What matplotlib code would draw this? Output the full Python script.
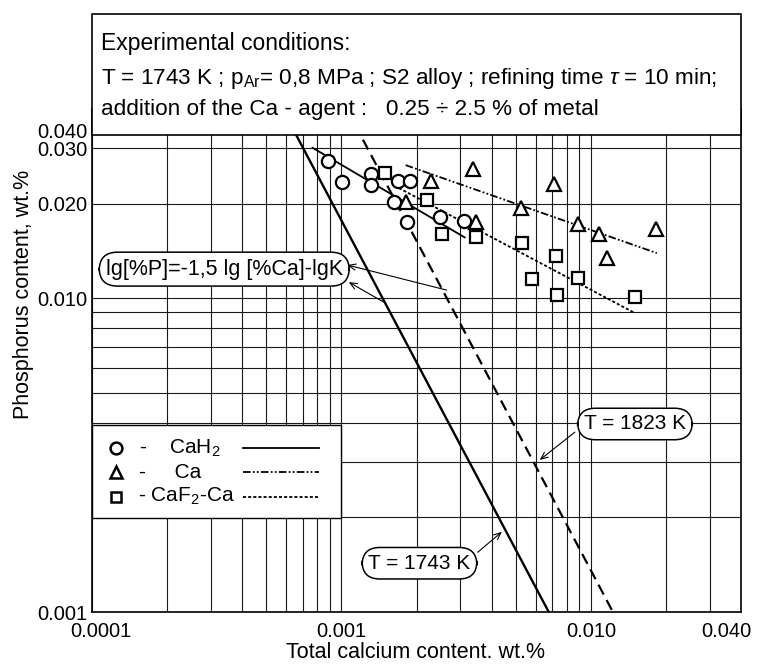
import matplotlib
matplotlib.use("Agg")
import matplotlib.pyplot as plt
import matplotlib.transforms as mtransforms
from matplotlib.patches import Rectangle

plt.rcParams['font.family'] = ['Liberation Sans', 'DejaVu Sans']
plt.rcParams['mathtext.fontset'] = 'custom'
plt.rcParams['mathtext.rm'] = 'Liberation Sans'
plt.rcParams['mathtext.it'] = 'Liberation Sans:italic'
plt.rcParams['lines.scale_dashes'] = False

# measured points, wt.%
cah2_ca = [0.00088, 0.00101, 0.00132, 0.00132, 0.00169, 0.00188, 0.00163, 0.00184, 0.00248, 0.00309]
cah2_p = [0.0273, 0.0234, 0.0248, 0.0229, 0.0236, 0.0236, 0.0202, 0.0175, 0.0181, 0.0176]
ca_ca = [0.00181, 0.00228, 0.00336, 0.00345, 0.00524, 0.0071, 0.00887, 0.01077, 0.0116, 0.0182]
ca_p = [0.0202, 0.0236, 0.0258, 0.0175, 0.0194, 0.0231, 0.0172, 0.0160, 0.0134, 0.0166]
caf2_ca = [0.00149, 0.00221, 0.00252, 0.00348, 0.00528, 0.00723, 0.0058, 0.00887, 0.0073, 0.0150]
caf2_p = [0.0250, 0.0205, 0.0160, 0.0157, 0.0150, 0.0136, 0.0115, 0.0116, 0.0102, 0.0101]

# regression lines (end points)
fit_cah2_ca = [0.000766, 0.00312]
fit_cah2_p = [0.0301, 0.0156]
fit_ca_ca = [0.00181, 0.0184]
fit_ca_p = [0.0265, 0.0139]
fit_caf2_ca = [0.00163, 0.0150]
fit_caf2_p = [0.0228, 0.00896]

# equilibrium lines lg[%P] = -1.5 lg[%Ca] - lgK
t1743_ca = [0.00058, 0.00678]
t1743_p = [0.040, 0.001]
t1823_ca = [0.00105, 0.01226]
t1823_p = [0.040, 0.001]

xticks = [0.0001, 0.001, 0.01, 0.04]
xticklabels = ["0.0001", "0.001", "0.010", "0.040"]
yticks = [0.001, 0.01, 0.02, 0.03, 0.04]
yticklabels = ["0.001", "0.010", "0.020", "0.030", "0.040"]

W, H = 758, 665
fig = plt.figure(figsize=(W / 100, H / 100), dpi=100)
ax = fig.add_axes([92 / W, 1 - 612 / H, 649 / W, 503 / H])
ax.set_xscale('log')
ax.set_yscale('log')
ax.set_xlim(0.0001, 0.04)
ax.set_ylim(0.001, 0.04)
ax.set_xticks(xticks)
ax.set_xticklabels(xticklabels)
ax.set_yticks(yticks)
ax.set_yticklabels(yticklabels)
ax.grid(True, which='both', color='#1a1a1a', lw=0.8)
ax.set_axisbelow(True)
ax.tick_params(which='both', length=0, labelsize=14.5)
ax.tick_params(axis='x', pad=7)
ax.tick_params(axis='y', pad=3)
for s in ax.spines.values():
    s.set_linewidth(1.2)

# tick labels shifted like in the original drawing
xl = ax.get_xticklabels()
xl[0].set_transform(xl[0].get_transform() + mtransforms.ScaledTranslation(9 / 100, 0, fig.dpi_scale_trans))
xl[-1].set_transform(xl[-1].get_transform() + mtransforms.ScaledTranslation(-15 / 100, 0, fig.dpi_scale_trans))
yl = ax.get_yticklabels()
yl[-1].set_transform(yl[-1].get_transform() + mtransforms.ScaledTranslation(0, -21 / 100, fig.dpi_scale_trans))

mk = dict(ls='none', mfc='white', mec='black', mew=1.6, zorder=6)
ax.plot(cah2_ca, cah2_p, marker='o', ms=9.5, **mk)
ax.plot(ca_ca, ca_p, marker='^', ms=10, **mk)
ax.plot(caf2_ca, caf2_p, marker='s', ms=8.5, **mk)

ax.plot(fit_cah2_ca, fit_cah2_p, color='black', lw=1.3, zorder=5)
ax.plot(fit_ca_ca, fit_ca_p, color='black', lw=1.3, ls=(0, (5.5, 1.6, 1.3, 1.6, 1.3, 1.6)), zorder=5)
ax.plot(fit_caf2_ca, fit_caf2_p, color='black', lw=1.3, ls=(0, (2.2, 1.5)), zorder=5)
ax.plot(t1743_ca, t1743_p, color='black', lw=1.7, zorder=5)
ax.plot(t1823_ca, t1823_p, color='black', lw=1.6, ls=(0, (8, 4.5)), zorder=5)

# annotations
pill = dict(boxstyle='round,pad=0.3,rounding_size=0.85', fc='white', ec='black', lw=1.1)
arr = dict(arrowstyle='->,head_length=0.5,head_width=0.22', color='black', lw=0.8, shrinkA=0, shrinkB=0)
ax.text(0.000339, 0.01236, "lg[%P]=-1,5 lg [%Ca]-lgK", ha='center', va='center', fontsize=15.5, bbox=pill, zorder=7)
ax.annotate('', xy=(0.001057, 0.01274), xytext=(0.00264, 0.0106), arrowprops=arr, zorder=7)
ax.annotate('', xy=(0.00107, 0.01124), xytext=(0.001476, 0.00971), arrowprops=arr, zorder=7)
ax.text(0.01503, 0.00397, "T = 1823 K", ha='center', va='center', fontsize=15, bbox=pill, zorder=7)
ax.annotate('', xy=(0.00624, 0.00305), xytext=(0.00863, 0.00374), arrowprops=arr, zorder=7)
ax.text(0.002056, 0.00143, "T = 1743 K", ha='center', va='center', fontsize=15, bbox=pill, zorder=7)
ax.annotate('', xy=(0.00440, 0.0018), xytext=(0.00352, 0.00155), arrowprops=arr, zorder=7)

# legend drawn by hand
ax.add_patch(Rectangle((0, 0.1869), 0.3837, 0.1849, transform=ax.transAxes, fc='white', ec='black', lw=1.0, zorder=8))
rows = [0.326, 0.278, 0.229]
lmk = dict(transform=ax.transAxes, ls='none', mfc='white', mec='black', mew=1.8, zorder=9, clip_on=False)
ax.plot([0.037], [rows[0]], marker='o', ms=8.5, **lmk)
ax.plot([0.037], [rows[1]], marker='^', ms=9, **lmk)
ax.plot([0.037], [rows[2]], marker='s', ms=7.5, **lmk)
ax.text(0.072, rows[0], "-    CaH$_2$", transform=ax.transAxes, va='center', fontsize=15, zorder=9)
ax.text(0.072, rows[1], "-     Ca", transform=ax.transAxes, va='center', fontsize=15, zorder=9)
ax.text(0.071, rows[2], "- CaF$_2$-Ca", transform=ax.transAxes, va='center', fontsize=15, zorder=9)
lx = [0.2327, 0.3498]
ax.plot(lx, [rows[0]] * 2, transform=ax.transAxes, color='black', lw=1.3, zorder=9)
ax.plot(lx, [rows[1]] * 2, transform=ax.transAxes, color='black', lw=1.3, ls=(0, (5.5, 1.6, 1.3, 1.6, 1.3, 1.6)), zorder=9)
ax.plot(lx, [rows[2]] * 2, transform=ax.transAxes, color='black', lw=1.3, ls=(0, (2.2, 1.5)), zorder=9)

# header box with the conditions
fig.add_artist(Rectangle((92 / W, 1 - 135 / H), 649 / W, 121 / H, transform=fig.transFigure,
                         fc='white', ec='black', lw=1.2, zorder=5))
fig.text(101 / W, 1 - 50 / H, "Experimental conditions:", fontsize=16.5, va='baseline', zorder=6)
fig.text(101 / W, 1 - 84 / H, r"T = 1743 K ; p$_\mathrm{Ar}$= 0,8 MPa ; S2 alloy ; refining time $\tau$ = 10 min;",
         fontsize=16.2, va='baseline', zorder=6)
fig.text(101 / W, 1 - 115 / H, "addition of the Ca - agent :   0.25 \u00f7 2.5 % of metal", fontsize=16.2,
         va='baseline', zorder=6)

fig.text(24 / W, 1 - 294 / H, "Phosphorus content, wt.%", rotation=90, ha='center', va='center', fontsize=15.5)
fig.text(415 / W, 1 - 652 / H, "Total calcium content. wt.%", ha='center', va='center', fontsize=15.5)

fig.savefig("out.png", dpi=100)
